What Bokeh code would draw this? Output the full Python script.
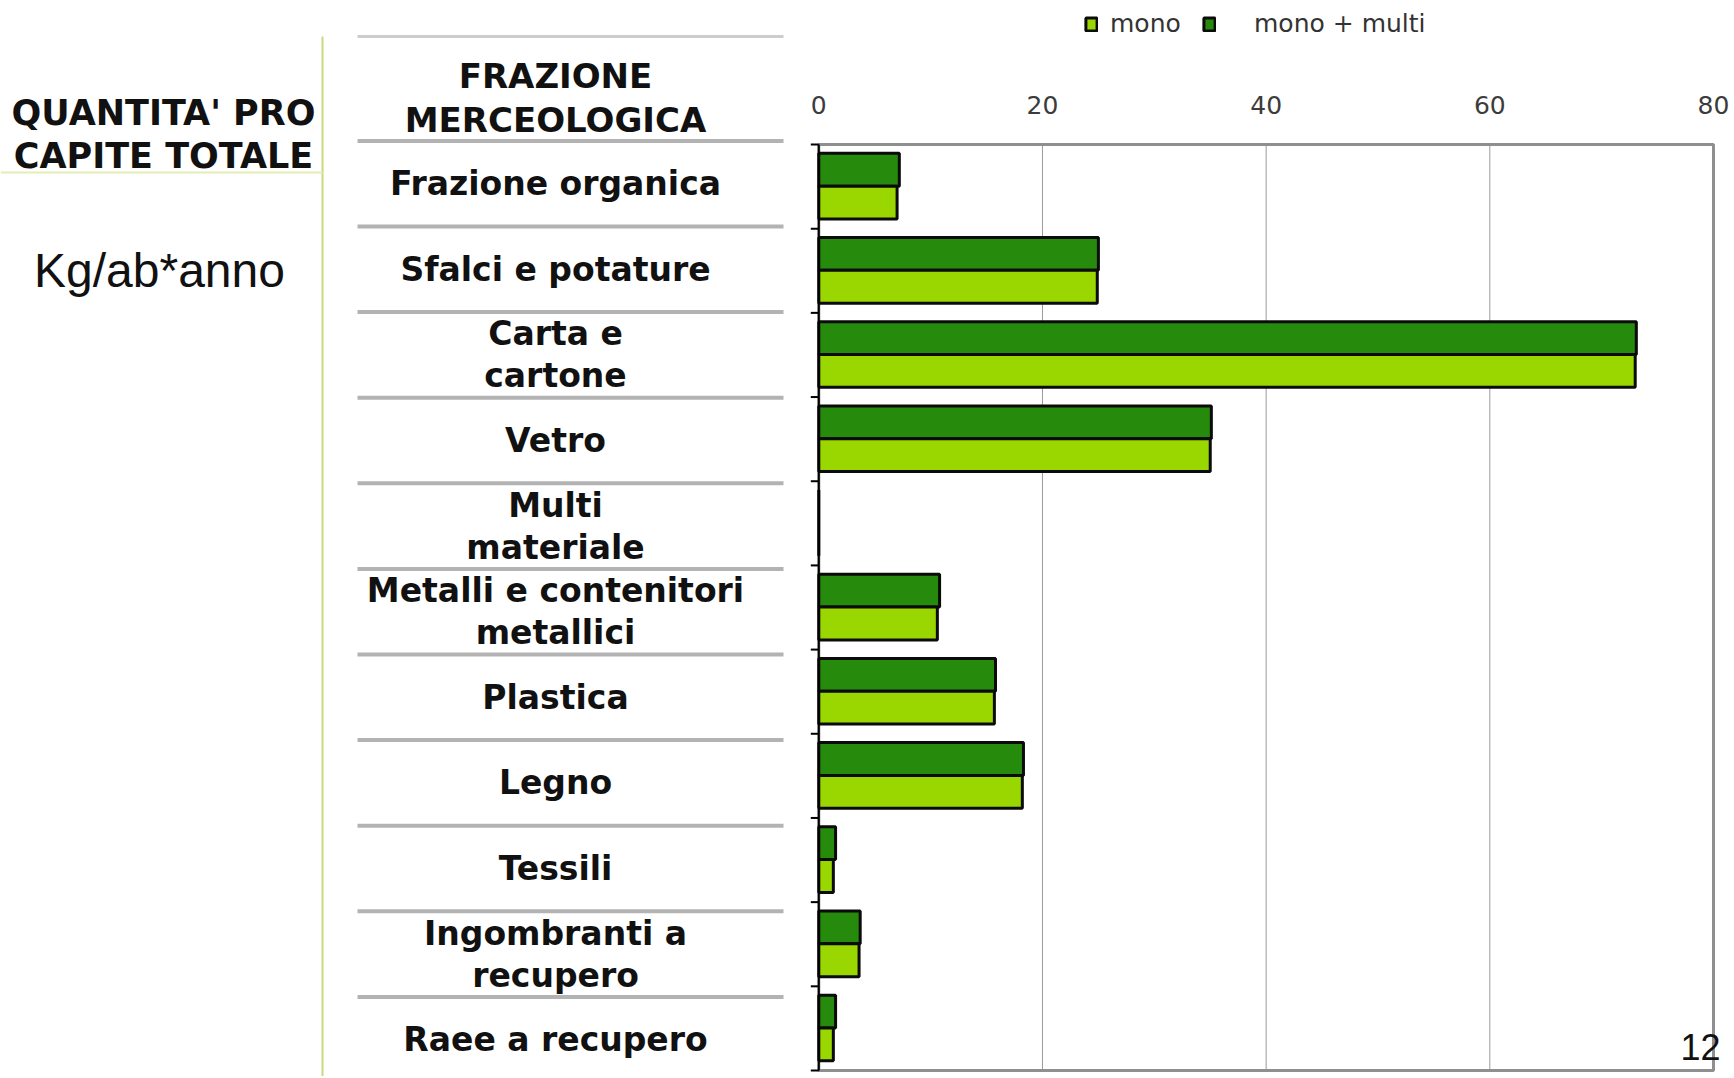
from bokeh.plotting import figure
from bokeh.models import (Range1d, FixedTicker, ColumnDataSource, Legend, LegendItem, Label,
                          LinearAxis)
from bokeh.core.properties import value
from bokeh.embed import file_html
from bokeh.resources import INLINE

# ---------------- data ----------------
categories = [
    "Frazione organica",
    "Sfalci e potature",
    "Carta e\ncartone",
    "Vetro",
    "Multi\nmateriale",
    "Metalli e contenitori\nmetallici",
    "Plastica",
    "Legno",
    "Tessili",
    "Ingombranti  a\nrecupero",
    "Raee a recupero",
]
mono = [7.0, 24.9, 73.0, 35.0, 0.0, 10.6, 15.7, 18.2, 1.3, 3.6, 1.3]
mono_multi = [7.2, 25.0, 73.1, 35.1, 0.0, 10.8, 15.8, 18.3, 1.5, 3.7, 1.5]
series_names = ["mono", "mono + multi"]
x_ticks = [0, 20, 40, 60, 80]
x_tick_labels = ["0", "20", "40", "60", "80"]
header_left = ["QUANTITA' PRO", "CAPITE TOTALE"]
header_mid = ["FRAZIONE", "MERCEOLOGICA"]
unit_label = "Kg/ab*anno"
page_number = "12"

LIGHT = "#9ad600"
DARK = "#268a0c"
EDGE = "#0b0b0b"
BOLD_FONT = value("DejaVu Sans")

n = len(categories)

# ---------------- canvas geometry ----------------
W, H = 1732, 1076
X0_PX, X80_PX = 818.3, 1713.0      # where value 0 and 80 fall on the page
Y0_PX, YN_PX = 144.0, 1070.0       # top and bottom of the category band
pxu = (X80_PX - X0_PX) / 80.0
pyu = (YN_PX - Y0_PX) / n

p = figure(width=W, height=H,
           x_range=Range1d(-X0_PX / pxu, 80 + (W - X80_PX) / pxu),
           y_range=Range1d(n + (H - YN_PX) / pyu, -Y0_PX / pyu),
           x_axis_type=None, y_axis_type=None, min_border=0,
           output_backend="svg", toolbar_location=None)
p.outline_line_color = None
p.background_fill_color = "white"
p.border_fill_color = "white"
p.extra_x_ranges = {"px": Range1d(0, W)}
p.extra_y_ranges = {"px": Range1d(H, 0)}

# ---------------- bar chart ----------------
p.segment(x0=x_ticks, x1=x_ticks, y0=[0] * len(x_ticks), y1=[n] * len(x_ticks),
          line_color="#9b9b9b", line_width=1)
p.quad(left=[0], right=[x_ticks[-1]], top=[0], bottom=[n], fill_color=None,
       line_color="#8f8f8f", line_width=3)

idx = list(range(n))
src = ColumnDataSource(dict(
    cat=categories,
    y_multi=[i + 0.30 for i in idx],
    y_mono=[i + 0.69 for i in idx],
    mono=mono,
    mono_multi=mono_multi,
))
r_multi = p.hbar(y="y_multi", left=0, right="mono_multi", height=0.39, source=src,
                 fill_color=DARK, line_color=EDGE, line_width=3)
r_mono = p.hbar(y="y_mono", left=0, right="mono", height=0.39, source=src,
                fill_color=LIGHT, line_color=EDGE, line_width=3)

# value axis (top)
xa = LinearAxis(ticker=FixedTicker(ticks=x_ticks), fixed_location=0, bounds=(0, 80))
xa.major_label_overrides = {t: l for t, l in zip(x_ticks, x_tick_labels)}
xa.axis_line_color = None
xa.major_tick_line_color = None
xa.minor_tick_line_color = None
xa.major_label_standoff = 25
xa.major_label_text_font = "DejaVu Sans"
xa.major_label_text_font_size = "25px"
xa.major_label_text_color = "#3c3c3c"
p.add_layout(xa, "above")

# category axis line with outward ticks at the category boundaries
boundaries = list(range(n + 1))
tick_len = 8 / pxu
p.segment(x0=[0], x1=[0], y0=[0], y1=[n], line_color="#000000", line_width=2)
p.segment(x0=[-tick_len] * len(boundaries), x1=[0] * len(boundaries),
          y0=boundaries, y1=boundaries, line_color="#000000", line_width=2)

legend_style = dict(orientation="horizontal", background_fill_alpha=0, border_line_alpha=0,
                    padding=0, margin=0, glyph_width=14, glyph_height=16,
                    label_text_font="DejaVu Sans", label_text_font_size="25px",
                    label_text_color="#333333")
legend_mono = Legend(items=[LegendItem(label=series_names[0], renderers=[r_mono])],
                     location=(1084, H - 38), label_standoff=12, **legend_style)
legend_multi = Legend(items=[LegendItem(label=series_names[1], renderers=[r_multi])],
                      location=(1202, H - 38), label_standoff=38, **legend_style)
p.add_layout(legend_mono)
p.add_layout(legend_multi)

# ---------------- left table (page-pixel coordinates) ----------------
PX = dict(x_range_name="px", y_range_name="px")
row_top, row_h = 140.4, 85.6
bounds = [row_top + row_h * k for k in range(n)]
p.segment(x0=[322], x1=[322], y0=[36], y1=[H + 5], line_color="#c9da7c", line_width=2, **PX)
p.segment(x0=[0], x1=[322], y0=[172], y1=[172], line_color="#e3edb8", line_width=2, **PX)
p.segment(x0=[357], x1=[783], y0=[36], y1=[36], line_color="#cdcdcd", line_width=3, **PX)
p.segment(x0=[357] * n, x1=[783] * n, y0=bounds, y1=bounds, line_color="#b3b3b3",
          line_width=4, **PX)

xs, ys, ts = [], [], []
for i, lab in enumerate(categories):
    lines = [s.replace("  ", " ") for s in lab.split("\n")]
    c = row_top + row_h * (i + 0.5)
    m = len(lines)
    for j, t in enumerate(lines):
        xs.append(555)
        ys.append(c + (j - (m - 1) / 2) * 42)
        ts.append(t)
p.text(x=xs, y=ys, text=ts, text_font=BOLD_FONT, text_font_style="bold",
       text_font_size="33px", text_align="center", text_baseline="middle",
       text_color="#111111", **PX)

p.text(x=[555, 555], y=[75, 119], text=header_mid, text_font=BOLD_FONT, text_font_style="bold",
       text_font_size="34px", text_align="center", text_baseline="middle",
       text_color="#111111", **PX)
p.text(x=[163, 163], y=[112, 155], text=header_left, text_font=BOLD_FONT, text_font_style="bold",
       text_font_size="35px", text_align="center", text_baseline="middle",
       text_color="#111111", **PX)
p.text(x=[159], y=[270], text=[unit_label], text_font=value("Liberation Sans"),
       text_font_size="48px", text_align="center", text_baseline="middle",
       text_color="#111111", **PX)

p.add_layout(Label(x=1720, y=30, x_units="screen", y_units="screen", text=page_number,
                   text_font="Liberation Sans", text_font_size="36px",
                   text_align="right", text_baseline="alphabetic", text_color="#111111"))

open("out.html", "w").write(file_html(p, INLINE))
